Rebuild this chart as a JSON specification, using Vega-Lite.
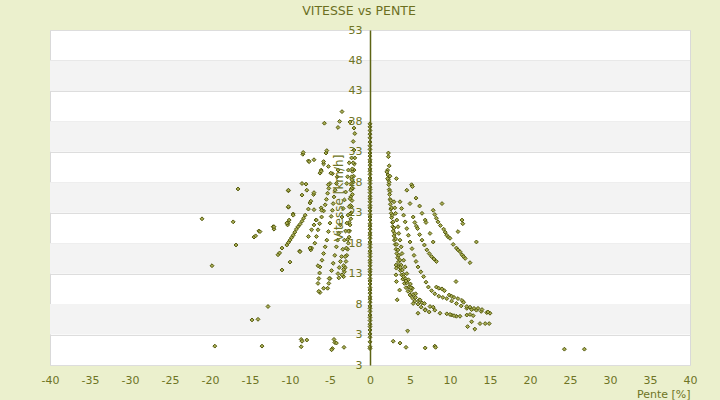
{
  "$schema": "https://vega.github.io/schema/vega-lite/v6.json",
  "width": 640,
  "height": 335,
  "autosize": "none",
  "padding": {"left": 50, "top": 30, "right": 30, "bottom": 35},
  "background": "#ebf0cd",
  "title": {
    "text": "VITESSE vs PENTE",
    "font": "DejaVu Sans",
    "fontSize": 12.5,
    "fontWeight": "normal",
    "color": "#6b6f1f",
    "offset": 7,
    "dx": -11
  },
  "resolve": {"axis": {"y": "independent"}},
  "layer": [
    {
      "data": {
        "values": [
          {"lo": 43, "hi": 48},
          {"lo": 33, "hi": 38},
          {"lo": 23, "hi": 28},
          {"lo": 13, "hi": 18},
          {"lo": 3, "hi": 8}
        ]
      },
      "mark": {"type": "rect", "fill": "#f3f3f3"},
      "encoding": {
        "x": {
          "datum": -40,
          "type": "quantitative",
          "title": "Pente [%]",
          "scale": {"domain": [-40, 40], "nice": false},
          "axis": {
            "domain": false,
            "ticks": false,
            "grid": false,
            "values": [-40, -35, -30, -25, -20, -15, -10, -5, 0, 5, 10, 15, 20, 25, 30, 35, 40],
            "labelExpr": "(datum.value < 0 ? '-' : '') + abs(datum.value)",
            "labelFont": "DejaVu Sans",
            "labelFontSize": 11,
            "labelColor": "#6e7424",
            "labelPadding": 9,
            "labelFlush": false,
            "titleFont": "DejaVu Sans",
            "titleFontSize": 11,
            "titleFontWeight": "normal",
            "titleColor": "#6e7424",
            "titleAnchor": "end",
            "titlePadding": 3
          }
        },
        "x2": {"datum": 40},
        "y": {
          "field": "lo",
          "type": "quantitative",
          "scale": {"domain": [-2, 53], "nice": false},
          "axis": {
            "orient": "left",
            "title": null,
            "labels": false,
            "domain": false,
            "ticks": false,
            "grid": true,
            "gridColor": "#dddddd",
            "gridWidth": 1,
            "values": [-2, 3, 8, 13, 18, 23, 28, 33, 38, 43, 48, 53]
          }
        },
        "y2": {"field": "hi"}
      }
    },
    {
      "data": {
        "values": [
          {"pente": 2.2, "vitesse": 30.0}, {"pente": 2.25, "vitesse": 29.2}, {"pente": 2.3, "vitesse": 28.4}, {"pente": 2.35, "vitesse": 27.6},
          {"pente": 2.4, "vitesse": 26.8}, {"pente": 2.45, "vitesse": 26.0}, {"pente": 2.5, "vitesse": 25.2}, {"pente": 2.55, "vitesse": 24.4},
          {"pente": 2.6, "vitesse": 23.6}, {"pente": 2.65, "vitesse": 22.9}, {"pente": 2.7, "vitesse": 22.2}, {"pente": 2.8, "vitesse": 21.4},
          {"pente": 2.85, "vitesse": 20.7}, {"pente": 2.9, "vitesse": 20.0}, {"pente": 3.0, "vitesse": 19.2}, {"pente": 3.05, "vitesse": 18.5},
          {"pente": 3.15, "vitesse": 17.8}, {"pente": 3.25, "vitesse": 17.0}, {"pente": 3.35, "vitesse": 16.3}, {"pente": 3.45, "vitesse": 15.6},
          {"pente": 3.55, "vitesse": 14.9}, {"pente": 3.65, "vitesse": 14.2}, {"pente": 3.8, "vitesse": 13.5}, {"pente": 3.95, "vitesse": 12.8},
          {"pente": 4.1, "vitesse": 12.1}, {"pente": 4.3, "vitesse": 11.4}, {"pente": 4.5, "vitesse": 10.7}, {"pente": 4.75, "vitesse": 10.1},
          {"pente": 5.0, "vitesse": 9.5}, {"pente": 5.3, "vitesse": 9.0}, {"pente": 5.6, "vitesse": 8.5}, {"pente": 6.0, "vitesse": 8.0},
          {"pente": 6.4, "vitesse": 7.5}, {"pente": 6.9, "vitesse": 7.1}, {"pente": 7.4, "vitesse": 6.7},
          {"pente": 2.4, "vitesse": 28.0}, {"pente": 2.5, "vitesse": 26.5}, {"pente": 2.6, "vitesse": 25.0}, {"pente": 2.7, "vitesse": 23.8},
          {"pente": 2.8, "vitesse": 22.6}, {"pente": 2.9, "vitesse": 21.5}, {"pente": 3.0, "vitesse": 20.5}, {"pente": 3.1, "vitesse": 19.6},
          {"pente": 3.2, "vitesse": 18.7}, {"pente": 3.35, "vitesse": 17.8}, {"pente": 3.5, "vitesse": 16.9}, {"pente": 3.6, "vitesse": 16.0},
          {"pente": 3.75, "vitesse": 15.2}, {"pente": 3.9, "vitesse": 14.4}, {"pente": 4.05, "vitesse": 13.6}, {"pente": 4.2, "vitesse": 12.9},
          {"pente": 4.4, "vitesse": 12.2}, {"pente": 4.6, "vitesse": 11.5}, {"pente": 4.85, "vitesse": 10.8}, {"pente": 5.1, "vitesse": 10.2},
          {"pente": 5.4, "vitesse": 9.6}, {"pente": 5.7, "vitesse": 9.1}, {"pente": 6.1, "vitesse": 8.6}, {"pente": 6.5, "vitesse": 8.2},
          {"pente": 3.0, "vitesse": 24.8}, {"pente": 3.1, "vitesse": 23.8}, {"pente": 3.2, "vitesse": 22.9}, {"pente": 3.35, "vitesse": 21.8},
          {"pente": 3.5, "vitesse": 20.7}, {"pente": 3.6, "vitesse": 19.6}, {"pente": 3.75, "vitesse": 18.5}, {"pente": 3.9, "vitesse": 17.4},
          {"pente": 4.0, "vitesse": 16.3}, {"pente": 4.2, "vitesse": 15.2}, {"pente": 4.4, "vitesse": 14.1}, {"pente": 4.6, "vitesse": 13.0},
          {"pente": 4.8, "vitesse": 12.0}, {"pente": 5.05, "vitesse": 11.3}, {"pente": 5.3, "vitesse": 10.6}, {"pente": 5.7, "vitesse": 9.7},
          {"pente": 6.25, "vitesse": 8.7}, {"pente": 6.8, "vitesse": 8.1}, {"pente": 7.5, "vitesse": 7.6}, {"pente": 8.1, "vitesse": 7.0},
          {"pente": 8.75, "vitesse": 6.5}, {"pente": 9.6, "vitesse": 6.4}, {"pente": 10.2, "vitesse": 6.2}, {"pente": 10.8, "vitesse": 6.0},
          {"pente": 11.25, "vitesse": 6.0},
          {"pente": 3.75, "vitesse": 24.8}, {"pente": 3.95, "vitesse": 23.7}, {"pente": 4.2, "vitesse": 22.6}, {"pente": 4.4, "vitesse": 21.5},
          {"pente": 4.6, "vitesse": 20.4}, {"pente": 4.8, "vitesse": 19.3}, {"pente": 5.0, "vitesse": 18.2}, {"pente": 5.25, "vitesse": 17.1},
          {"pente": 5.5, "vitesse": 16.0}, {"pente": 5.75, "vitesse": 15.0}, {"pente": 6.0, "vitesse": 14.1}, {"pente": 6.35, "vitesse": 13.3},
          {"pente": 6.7, "vitesse": 12.5}, {"pente": 7.0, "vitesse": 11.6}, {"pente": 7.3, "vitesse": 10.8}, {"pente": 7.7, "vitesse": 10.2},
          {"pente": 8.1, "vitesse": 9.7}, {"pente": 8.6, "vitesse": 9.3}, {"pente": 9.1, "vitesse": 9.1}, {"pente": 9.6, "vitesse": 8.9},
          {"pente": 10.2, "vitesse": 8.5}, {"pente": 10.8, "vitesse": 8.1}, {"pente": 11.4, "vitesse": 7.7}, {"pente": 12.1, "vitesse": 7.3},
          {"pente": 12.7, "vitesse": 7.1}, {"pente": 13.3, "vitesse": 7.0}, {"pente": 13.9, "vitesse": 6.8}, {"pente": 14.6, "vitesse": 6.6},
          {"pente": 15.0, "vitesse": 6.5},
          {"pente": 5.4, "vitesse": 22.3}, {"pente": 5.6, "vitesse": 21.4}, {"pente": 5.8, "vitesse": 20.8}, {"pente": 5.95, "vitesse": 20.4},
          {"pente": 6.2, "vitesse": 19.4}, {"pente": 6.5, "vitesse": 18.5}, {"pente": 6.8, "vitesse": 17.7}, {"pente": 7.1, "vitesse": 16.9},
          {"pente": 7.4, "vitesse": 16.3}, {"pente": 7.7, "vitesse": 15.8}, {"pente": 8.0, "vitesse": 15.4}, {"pente": 8.3, "vitesse": 15.0},
          {"pente": 8.3, "vitesse": 10.8}, {"pente": 8.6, "vitesse": 10.6}, {"pente": 9.0, "vitesse": 10.5}, {"pente": 9.3, "vitesse": 10.2},
          {"pente": 9.9, "vitesse": 9.5}, {"pente": 10.2, "vitesse": 9.3}, {"pente": 10.5, "vitesse": 9.1}, {"pente": 11.0, "vitesse": 8.9},
          {"pente": 11.5, "vitesse": 8.6},
          {"pente": 7.9, "vitesse": 23.4}, {"pente": 8.1, "vitesse": 22.7}, {"pente": 8.3, "vitesse": 22.1}, {"pente": 8.5, "vitesse": 21.5},
          {"pente": 8.8, "vitesse": 20.9}, {"pente": 9.2, "vitesse": 20.3}, {"pente": 9.4, "vitesse": 19.8}, {"pente": 9.6, "vitesse": 19.3},
          {"pente": 9.8, "vitesse": 19.0}, {"pente": 10.0, "vitesse": 18.8},
          {"pente": 10.8, "vitesse": 17.2}, {"pente": 11.0, "vitesse": 16.9}, {"pente": 11.25, "vitesse": 16.6}, {"pente": 11.5, "vitesse": 16.1},
          {"pente": 11.7, "vitesse": 15.8}, {"pente": 11.9, "vitesse": 15.5},
          {"pente": 2.3, "vitesse": 32.8}, {"pente": 2.3, "vitesse": 32.2}, {"pente": 2.4, "vitesse": 30.7}, {"pente": 2.1, "vitesse": 29.7},
          {"pente": 2.5, "vitesse": 29.0}, {"pente": 2.2, "vitesse": 28.6}, {"pente": 3.3, "vitesse": 28.6}, {"pente": 4.6, "vitesse": 26.7},
          {"pente": 5.2, "vitesse": 27.6}, {"pente": 5.3, "vitesse": 27.3}, {"pente": 5.75, "vitesse": 25.4}, {"pente": 5.0, "vitesse": 24.5},
          {"pente": 6.2, "vitesse": 24.1}, {"pente": 6.5, "vitesse": 22.9}, {"pente": 6.9, "vitesse": 21.8}, {"pente": 7.0, "vitesse": 21.4},
          {"pente": 7.5, "vitesse": 19.6}, {"pente": 7.9, "vitesse": 18.2}, {"pente": 9.0, "vitesse": 24.5}, {"pente": 11.5, "vitesse": 21.8},
          {"pente": 11.6, "vitesse": 21.2}, {"pente": 11.0, "vitesse": 19.9}, {"pente": 13.3, "vitesse": 18.2}, {"pente": 12.5, "vitesse": 14.8},
          {"pente": 10.4, "vitesse": 17.8}, {"pente": 3.25, "vitesse": 14.4}, {"pente": 3.3, "vitesse": 13.9}, {"pente": 3.25, "vitesse": 12.8},
          {"pente": 3.8, "vitesse": 14.0}, {"pente": 3.3, "vitesse": 11.7}, {"pente": 3.7, "vitesse": 10.3}, {"pente": 3.4, "vitesse": 8.7},
          {"pente": 4.2, "vitesse": 12.5}, {"pente": 4.5, "vitesse": 11.8}, {"pente": 5.1, "vitesse": 10.7}, {"pente": 5.4, "vitesse": 8.1},
          {"pente": 6.0, "vitesse": 6.5}, {"pente": 6.9, "vitesse": 7.0}, {"pente": 4.7, "vitesse": 3.6}, {"pente": 2.9, "vitesse": 1.9},
          {"pente": 3.75, "vitesse": 1.6}, {"pente": 4.5, "vitesse": 0.9}, {"pente": 6.9, "vitesse": 0.8}, {"pente": 8.1, "vitesse": 1.1},
          {"pente": 8.2, "vitesse": 0.9}, {"pente": 24.3, "vitesse": 0.6}, {"pente": 26.8, "vitesse": 0.6}, {"pente": 10.75, "vitesse": 11.7},
          {"pente": 11.7, "vitesse": 8.3}, {"pente": 12.2, "vitesse": 4.3}, {"pente": 12.7, "vitesse": 5.1}, {"pente": 13.1, "vitesse": 3.9},
          {"pente": 13.75, "vitesse": 4.8}, {"pente": 14.4, "vitesse": 4.8}, {"pente": 14.9, "vitesse": 4.8}, {"pente": 10.0, "vitesse": 6.3},
          {"pente": 10.5, "vitesse": 6.1}, {"pente": 7.9, "vitesse": 7.5}, {"pente": 12.1, "vitesse": 6.2}, {"pente": 12.5, "vitesse": 6.3},
          {"pente": 12.9, "vitesse": 6.1}, {"pente": 12.1, "vitesse": 7.6}, {"pente": 12.5, "vitesse": 7.5}, {"pente": 13.0, "vitesse": 7.3},
          {"pente": 13.5, "vitesse": 7.3}, {"pente": 14.0, "vitesse": 7.1}, {"pente": 14.75, "vitesse": 6.7},
          {"pente": -3.3, "vitesse": 12.5}, {"pente": -3.2, "vitesse": 13.3}, {"pente": -3.1, "vitesse": 14.0}, {"pente": -3.0, "vitesse": 15.0},
          {"pente": -2.9, "vitesse": 16.0}, {"pente": -2.8, "vitesse": 17.0}, {"pente": -2.7, "vitesse": 18.0}, {"pente": -2.6, "vitesse": 19.0},
          {"pente": -2.55, "vitesse": 20.0}, {"pente": -2.5, "vitesse": 21.0}, {"pente": -2.4, "vitesse": 22.0}, {"pente": -2.35, "vitesse": 23.0},
          {"pente": -2.3, "vitesse": 24.0}, {"pente": -2.25, "vitesse": 25.0}, {"pente": -2.2, "vitesse": 26.0}, {"pente": -2.15, "vitesse": 27.0},
          {"pente": -2.1, "vitesse": 28.0}, {"pente": -2.05, "vitesse": 29.0}, {"pente": -2.0, "vitesse": 30.0}, {"pente": -1.95, "vitesse": 31.0},
          {"pente": -1.9, "vitesse": 32.0},
          {"pente": -3.5, "vitesse": 12.8}, {"pente": -3.3, "vitesse": 14.3}, {"pente": -3.1, "vitesse": 15.8}, {"pente": -2.95, "vitesse": 17.2},
          {"pente": -2.8, "vitesse": 18.6}, {"pente": -2.7, "vitesse": 20.0}, {"pente": -2.6, "vitesse": 21.4}, {"pente": -2.5, "vitesse": 22.8},
          {"pente": -2.45, "vitesse": 24.2}, {"pente": -2.4, "vitesse": 25.6}, {"pente": -2.3, "vitesse": 27.0}, {"pente": -2.25, "vitesse": 28.4},
          {"pente": -2.2, "vitesse": 29.8}, {"pente": -2.1, "vitesse": 31.2},
          {"pente": -4.0, "vitesse": 13.0}, {"pente": -3.85, "vitesse": 14.0}, {"pente": -3.7, "vitesse": 15.0}, {"pente": -3.55, "vitesse": 15.8},
          {"pente": -3.4, "vitesse": 17.0}, {"pente": -3.2, "vitesse": 18.5}, {"pente": -3.05, "vitesse": 20.0}, {"pente": -2.9, "vitesse": 21.3},
          {"pente": -2.75, "vitesse": 22.6}, {"pente": -2.6, "vitesse": 24.0}, {"pente": -2.5, "vitesse": 25.3}, {"pente": -2.4, "vitesse": 26.7},
          {"pente": -2.35, "vitesse": 27.8}, {"pente": -2.3, "vitesse": 28.9}, {"pente": -2.2, "vitesse": 30.2},
          {"pente": -5.0, "vitesse": 12.2}, {"pente": -4.8, "vitesse": 13.5}, {"pente": -4.6, "vitesse": 14.7}, {"pente": -4.4, "vitesse": 16.0},
          {"pente": -4.2, "vitesse": 17.4}, {"pente": -4.05, "vitesse": 18.5}, {"pente": -3.9, "vitesse": 19.6}, {"pente": -3.7, "vitesse": 21.0},
          {"pente": -3.5, "vitesse": 22.3}, {"pente": -3.35, "vitesse": 23.7}, {"pente": -3.2, "vitesse": 25.1}, {"pente": -3.05, "vitesse": 26.4},
          {"pente": -2.9, "vitesse": 27.8}, {"pente": -2.8, "vitesse": 28.9}, {"pente": -2.7, "vitesse": 30.0}, {"pente": -2.6, "vitesse": 31.2},
          {"pente": -5.3, "vitesse": 10.6}, {"pente": -5.15, "vitesse": 11.4},
          {"pente": -6.5, "vitesse": 11.4}, {"pente": -6.4, "vitesse": 12.2}, {"pente": -6.3, "vitesse": 13.1},
          {"pente": -6.25, "vitesse": 14.1}, {"pente": -6.0, "vitesse": 15.2}, {"pente": -5.8, "vitesse": 16.3}, {"pente": -5.6, "vitesse": 17.4},
          {"pente": -5.4, "vitesse": 18.5}, {"pente": -5.2, "vitesse": 19.9}, {"pente": -5.0, "vitesse": 21.3}, {"pente": -4.85, "vitesse": 22.4},
          {"pente": -4.7, "vitesse": 23.4}, {"pente": -4.6, "vitesse": 24.5}, {"pente": -4.5, "vitesse": 25.6}, {"pente": -4.35, "vitesse": 26.7},
          {"pente": -4.2, "vitesse": 27.8}, {"pente": -4.1, "vitesse": 28.9}, {"pente": -4.0, "vitesse": 30.0},
          {"pente": -6.9, "vitesse": 18.0}, {"pente": -6.7, "vitesse": 19.1}, {"pente": -6.5, "vitesse": 20.2}, {"pente": -6.3, "vitesse": 21.2},
          {"pente": -6.05, "vitesse": 22.3}, {"pente": -5.8, "vitesse": 23.3}, {"pente": -5.6, "vitesse": 24.3}, {"pente": -5.45, "vitesse": 25.2},
          {"pente": -5.3, "vitesse": 26.2}, {"pente": -5.15, "vitesse": 27.0}, {"pente": -5.0, "vitesse": 27.8},
          {"pente": -10.4, "vitesse": 17.7}, {"pente": -10.2, "vitesse": 18.1}, {"pente": -10.0, "vitesse": 18.5}, {"pente": -9.8, "vitesse": 18.9},
          {"pente": -9.6, "vitesse": 19.3}, {"pente": -9.4, "vitesse": 19.8}, {"pente": -9.2, "vitesse": 20.3}, {"pente": -9.0, "vitesse": 20.7},
          {"pente": -8.75, "vitesse": 21.1}, {"pente": -8.5, "vitesse": 21.6}, {"pente": -8.3, "vitesse": 22.1}, {"pente": -8.1, "vitesse": 22.6},
          {"pente": -21.0, "vitesse": 22.0}, {"pente": -19.75, "vitesse": 14.3}, {"pente": -19.4, "vitesse": 1.1}, {"pente": -16.5, "vitesse": 26.9},
          {"pente": -17.1, "vitesse": 21.5}, {"pente": -16.75, "vitesse": 17.7}, {"pente": -14.5, "vitesse": 19.0}, {"pente": -14.3, "vitesse": 19.2},
          {"pente": -13.9, "vitesse": 20.0}, {"pente": -12.75, "vitesse": 7.6}, {"pente": -14.75, "vitesse": 5.4}, {"pente": -14.0, "vitesse": 5.5},
          {"pente": -13.5, "vitesse": 1.1}, {"pente": -12.1, "vitesse": 20.7}, {"pente": -12.0, "vitesse": 20.3}, {"pente": -11.5, "vitesse": 16.1},
          {"pente": -11.3, "vitesse": 16.4}, {"pente": -11.0, "vitesse": 17.2}, {"pente": -11.0, "vitesse": 13.6}, {"pente": -10.3, "vitesse": 21.0},
          {"pente": -10.2, "vitesse": 21.4}, {"pente": -10.1, "vitesse": 21.8}, {"pente": -10.2, "vitesse": 23.9}, {"pente": -10.2, "vitesse": 26.6},
          {"pente": -10.0, "vitesse": 14.9}, {"pente": -9.6, "vitesse": 22.8}, {"pente": -8.8, "vitesse": 16.7}, {"pente": -8.4, "vitesse": 32.6},
          {"pente": -8.35, "vitesse": 32.9}, {"pente": -7.7, "vitesse": 31.5}, {"pente": -7.0, "vitesse": 31.7}, {"pente": -8.0, "vitesse": 27.7},
          {"pente": -8.5, "vitesse": 25.9}, {"pente": -7.7, "vitesse": 23.6}, {"pente": -7.5, "vitesse": 24.6}, {"pente": -7.4, "vitesse": 24.9},
          {"pente": -7.05, "vitesse": 26.0}, {"pente": -7.0, "vitesse": 26.3}, {"pente": -6.75, "vitesse": 21.8}, {"pente": -7.4, "vitesse": 16.9},
          {"pente": -7.3, "vitesse": 17.2}, {"pente": -6.25, "vitesse": 29.5}, {"pente": -6.1, "vitesse": 30.0}, {"pente": -5.5, "vitesse": 32.8},
          {"pente": -5.4, "vitesse": 33.2}, {"pente": -5.8, "vitesse": 31.0}, {"pente": -6.1, "vitesse": 23.8}, {"pente": -6.05, "vitesse": 23.4},
          {"pente": -6.5, "vitesse": 14.3}, {"pente": -6.25, "vitesse": 9.9}, {"pente": -6.4, "vitesse": 10.1}, {"pente": -5.8, "vitesse": 10.6},
          {"pente": -5.1, "vitesse": 12.2}, {"pente": -3.9, "vitesse": 12.3}, {"pente": -3.3, "vitesse": 13.7}, {"pente": -8.6, "vitesse": 2.2},
          {"pente": -8.5, "vitesse": 1.9}, {"pente": -8.6, "vitesse": 1.0}, {"pente": -7.9, "vitesse": 2.1}, {"pente": -4.5, "vitesse": 2.2},
          {"pente": -4.4, "vitesse": 1.7}, {"pente": -4.7, "vitesse": 0.7}, {"pente": -4.2, "vitesse": 1.6}, {"pente": -4.8, "vitesse": 0.5},
          {"pente": -3.25, "vitesse": 0.9}, {"pente": -3.5, "vitesse": 39.6}, {"pente": -3.8, "vitesse": 38.0}, {"pente": -5.7, "vitesse": 37.7},
          {"pente": -4.0, "vitesse": 37.0}, {"pente": -2.0, "vitesse": 36.9}, {"pente": -1.9, "vitesse": 36.0}, {"pente": -2.1, "vitesse": 34.7},
          {"pente": -2.5, "vitesse": 37.9}, {"pente": -7.6, "vitesse": 31.4}, {"pente": -5.8, "vitesse": 31.4}, {"pente": -6.1, "vitesse": 29.8},
          {"pente": -5.2, "vitesse": 30.6}, {"pente": -4.7, "vitesse": 29.4}, {"pente": -10.2, "vitesse": 26.7}, {"pente": -8.5, "vitesse": 27.8},
          {"pente": -7.9, "vitesse": 26.7}, {"pente": -13.75, "vitesse": 19.9}, {"pente": -12.0, "vitesse": 20.7}, {"pente": -10.2, "vitesse": 24.0},
          {"pente": -9.6, "vitesse": 22.6}, {"pente": -10.4, "vitesse": 21.3}, {"pente": -7.0, "vitesse": 23.5}, {"pente": -4.9, "vitesse": 29.5},
          {"pente": -5.2, "vitesse": 27.6}, {"pente": -2.3, "vitesse": 32.0}, {"pente": -2.0, "vitesse": 33.3}, {"pente": -7.5, "vitesse": 17.2},
          {"pente": -7.7, "vitesse": 19.1}, {"pente": -8.75, "vitesse": 16.6}, {"pente": -6.7, "vitesse": 21.8}, {"pente": -7.3, "vitesse": 20.2},
          {"pente": -7.0, "vitesse": 21.0},
          {"pente": 0, "vitesse": 0.7}, {"pente": 0, "vitesse": 1.0}, {"pente": 0, "vitesse": 1.8}, {"pente": 0, "vitesse": 2.55},
          {"pente": 0, "vitesse": 3.1}, {"pente": 0, "vitesse": 3.75}, {"pente": 0, "vitesse": 4.3}, {"pente": 0, "vitesse": 4.7},
          {"pente": 0, "vitesse": 5.3}, {"pente": 0, "vitesse": 5.8}, {"pente": 0, "vitesse": 6.2}, {"pente": 0, "vitesse": 6.8},
          {"pente": 0, "vitesse": 7.3}, {"pente": 0, "vitesse": 7.7}, {"pente": 0, "vitesse": 8.3}, {"pente": 0, "vitesse": 8.8},
          {"pente": 0, "vitesse": 9.2}, {"pente": 0, "vitesse": 9.8}, {"pente": 0, "vitesse": 10.3}, {"pente": 0, "vitesse": 10.7},
          {"pente": 0, "vitesse": 11.3}, {"pente": 0, "vitesse": 11.8}, {"pente": 0, "vitesse": 12.2}, {"pente": 0, "vitesse": 12.8},
          {"pente": 0, "vitesse": 13.3}, {"pente": 0, "vitesse": 13.7}, {"pente": 0, "vitesse": 14.3}, {"pente": 0, "vitesse": 14.8},
          {"pente": 0, "vitesse": 15.2}, {"pente": 0, "vitesse": 15.8}, {"pente": 0, "vitesse": 16.3}, {"pente": 0, "vitesse": 16.7},
          {"pente": 0, "vitesse": 17.3}, {"pente": 0, "vitesse": 17.8}, {"pente": 0, "vitesse": 18.2}, {"pente": 0, "vitesse": 18.8},
          {"pente": 0, "vitesse": 19.3}, {"pente": 0, "vitesse": 19.7}, {"pente": 0, "vitesse": 20.3}, {"pente": 0, "vitesse": 20.8},
          {"pente": 0, "vitesse": 21.2}, {"pente": 0, "vitesse": 21.8}, {"pente": 0, "vitesse": 22.3}, {"pente": 0, "vitesse": 22.7},
          {"pente": 0, "vitesse": 23.3}, {"pente": 0, "vitesse": 23.8}, {"pente": 0, "vitesse": 24.2}, {"pente": 0, "vitesse": 24.8},
          {"pente": 0, "vitesse": 25.3}, {"pente": 0, "vitesse": 25.7}, {"pente": 0, "vitesse": 26.3}, {"pente": 0, "vitesse": 26.8},
          {"pente": 0, "vitesse": 27.2}, {"pente": 0, "vitesse": 27.8}, {"pente": 0, "vitesse": 28.3}, {"pente": 0, "vitesse": 28.7},
          {"pente": 0, "vitesse": 29.3}, {"pente": 0, "vitesse": 29.8}, {"pente": 0, "vitesse": 30.2}, {"pente": 0, "vitesse": 30.8},
          {"pente": 0, "vitesse": 31.3}, {"pente": 0, "vitesse": 31.7}, {"pente": 0, "vitesse": 32.3}, {"pente": 0, "vitesse": 32.8},
          {"pente": 0, "vitesse": 33.4}, {"pente": 0, "vitesse": 34.0}, {"pente": 0, "vitesse": 34.6}, {"pente": 0, "vitesse": 35.3},
          {"pente": 0, "vitesse": 35.9}, {"pente": 0, "vitesse": 36.5}, {"pente": 0, "vitesse": 37.1}, {"pente": 0, "vitesse": 37.6}
        ]
      },
      "mark": {"type": "point", "shape": "diamond", "filled": true, "size": 15, "strokeWidth": 1, "fill": "#a9ae55", "stroke": "#52570a", "opacity": 1},
      "encoding": {
        "x": {
          "field": "pente",
          "type": "quantitative",
          "title": "Pente [%]",
          "axis": {
            "domain": false,
            "ticks": false,
            "grid": false,
            "values": [-40, -35, -30, -25, -20, -15, -10, -5, 0, 5, 10, 15, 20, 25, 30, 35, 40],
            "labelExpr": "(datum.value < 0 ? '-' : '') + abs(datum.value)",
            "labelFont": "DejaVu Sans",
            "labelFontSize": 11,
            "labelColor": "#6e7424",
            "labelPadding": 9,
            "labelFlush": false,
            "titleFont": "DejaVu Sans",
            "titleFontSize": 11,
            "titleFontWeight": "normal",
            "titleColor": "#6e7424",
            "titleAnchor": "end",
            "titlePadding": 3
          }
        },
        "y": {
          "field": "vitesse",
          "type": "quantitative",
          "title": "Vitesse [km/h]",
          "axis": {
            "orient": "left",
            "offset": -320,
            "zindex": 1,
            "domain": true,
            "domainColor": "#5d6314",
            "domainWidth": 1.5,
            "ticks": false,
            "grid": false,
            "values": [-2, 3, 8, 13, 18, 23, 28, 33, 38, 43, 48, 53],
            "labelExpr": "datum.value < 0 ? '3' : datum.label",
            "labelFont": "DejaVu Sans",
            "labelFontSize": 11,
            "labelColor": "#6e7424",
            "labelPadding": 8,
            "labelFlush": false,
            "titleFont": "DejaVu Sans",
            "titleFontSize": 12,
            "titleFontWeight": "normal",
            "titleColor": "#6e7424",
            "titlePadding": 3
          }
        }
      }
    }
  ],
  "config": {
    "view": {"fill": "#ffffff", "stroke": "#d9d9d9", "strokeWidth": 1}
  }
}
